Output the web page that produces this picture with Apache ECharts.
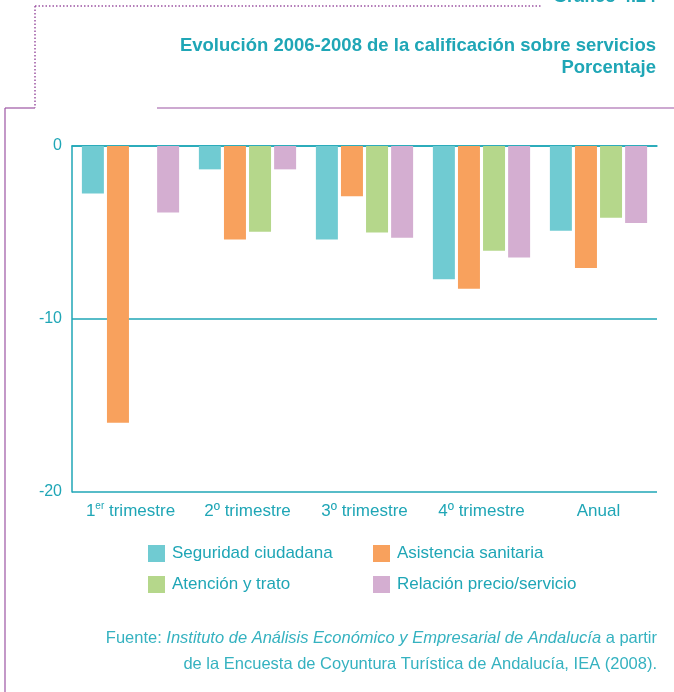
<!DOCTYPE html>
<html>
<head>
<meta charset="utf-8">
<script src="https://cdn.jsdelivr.net/npm/echarts@6/dist/echarts.min.js"></script>
<style>
  html, body { margin: 0; padding: 0; background: #fff; }
  #chart { width: 674px; height: 692px; }
</style>
</head>
<body>
<div id="chart"></div>
<script>
  var categories = ['1er trimestre', '2º trimestre', '3º trimestre', '4º trimestre', 'Anual']
  var seguridad = [-2.75, -1.35, -5.4, -7.7, -4.9]
  var asistencia = [-16.0, -5.4, -2.9, -8.25, -7.05]
  var atencion = [null, -4.95, -5.0, -6.05, -4.15]
  var relacion = [-3.85, -1.35, -5.3, -6.45, -4.45]
  var yTicks = [-20, -10, 0]

  var teal = '#1fa6b6'
  var purple = '#9c54a3'
  var font = 'Liberation Sans, Arial, sans-serif'

  var chart = echarts.init(document.getElementById('chart'))

  function bar(name, data, color) {
    return {
      name: name,
      type: 'bar',
      data: data,
      barWidth: 22,
      barGap: '14%',
      itemStyle: { color: color }
    }
  }

  function legendCol(names, left) {
    return {
      data: names,
      orient: 'vertical',
      left: left, top: 545,
      padding: 0,
      itemWidth: 17, itemHeight: 17, itemGap: 14,
      icon: 'rect',
      textStyle: { color: teal, fontSize: 17, padding: [0, 0, 0, 2] }
    }
  }

  chart.setOption({
    animation: false,
    textStyle: { fontFamily: font },
    grid: { left: 72, right: 17, top: 146, bottom: 200 },
    legend: [
      legendCol(['Seguridad ciudadana', 'Atención y trato'], 148),
      legendCol(['Asistencia sanitaria', 'Relación precio/servicio'], 373)
    ],
    xAxis: {
      type: 'category',
      data: categories,
      axisTick: { show: false },
      axisLine: { lineStyle: { color: teal, width: 1.5 } },
      axisLabel: {
        interval: 0,
        margin: 9,
        color: teal,
        fontSize: 17,
        formatter: function (v) {
          if (v === '1er trimestre') return '{n|1}{s|er}{n| trimestre}'
          return '{n|' + v + '}'
        },
        rich: {
          n: { color: teal, fontSize: 17, lineHeight: 20 },
          s: { color: teal, fontSize: 10, lineHeight: 10, verticalAlign: 'top' }
        }
      }
    },
    yAxis: {
      type: 'value',
      min: yTicks[0],
      max: yTicks[yTicks.length - 1],
      interval: 10,
      axisLine: { show: true, lineStyle: { color: teal, width: 1.5 } },
      axisTick: { show: false },
      axisLabel: { color: teal, fontSize: 16, margin: 10 },
      splitLine: { lineStyle: { color: teal, width: 1.5 } }
    },
    series: [
      bar('Seguridad ciudadana', seguridad, '#70cbd2'),
      bar('Asistencia sanitaria', asistencia, '#f8a15d'),
      bar('Atención y trato', atencion, '#b5d78b'),
      bar('Relación precio/servicio', relacion, '#d4aed1')
    ],
    graphic: [
      // frame
      { type: 'line', shape: { x1: 5, y1: 108, x2: 5, y2: 692 }, style: { stroke: purple, lineWidth: 1.2 } },
      { type: 'line', shape: { x1: 5, y1: 108, x2: 35, y2: 108 }, style: { stroke: purple, lineWidth: 1.2 } },
      { type: 'line', shape: { x1: 157, y1: 108, x2: 674, y2: 108 }, style: { stroke: purple, lineWidth: 1.2 } },
      { type: 'line', shape: { x1: 35, y1: 6, x2: 35, y2: 108 }, style: { stroke: purple, lineWidth: 1.5, lineDash: [1.5, 2] } },
      { type: 'line', shape: { x1: 35, y1: 6, x2: 542, y2: 6 }, style: { stroke: purple, lineWidth: 1.5, lineDash: [1.5, 2] } },
      // titles
      {
        type: 'text', x: 656, y: 6,
        style: { text: 'Gráfico 4.24', fill: teal, font: 'bold 18px ' + font, align: 'right', verticalAlign: 'bottom' }
      },
      {
        type: 'text', x: 656, y: 35,
        style: {
          text: 'Evolución 2006-2008 de la calificación sobre servicios\nPorcentaje',
          fill: teal, font: 'bold 18.5px ' + font, align: 'right', lineHeight: 22
        }
      },
      // source
      {
        type: 'text', x: 657, y: 625,
        style: {
          text: '{n|Fuente: }{i|Instituto de Análisis Económico y Empresarial de Andalucía}{n| a partir}\n{n|de la Encuesta de Coyuntura Turística de Andalucía, IEA (2008).}',
          align: 'right',
          rich: {
            n: { fill: '#35b2c0', fontSize: 16.5, lineHeight: 26, fontFamily: font },
            i: { fill: '#35b2c0', fontSize: 16.5, lineHeight: 26, fontStyle: 'italic', fontFamily: font }
          }
        }
      }
    ]
  })
</script>
</body>
</html>
